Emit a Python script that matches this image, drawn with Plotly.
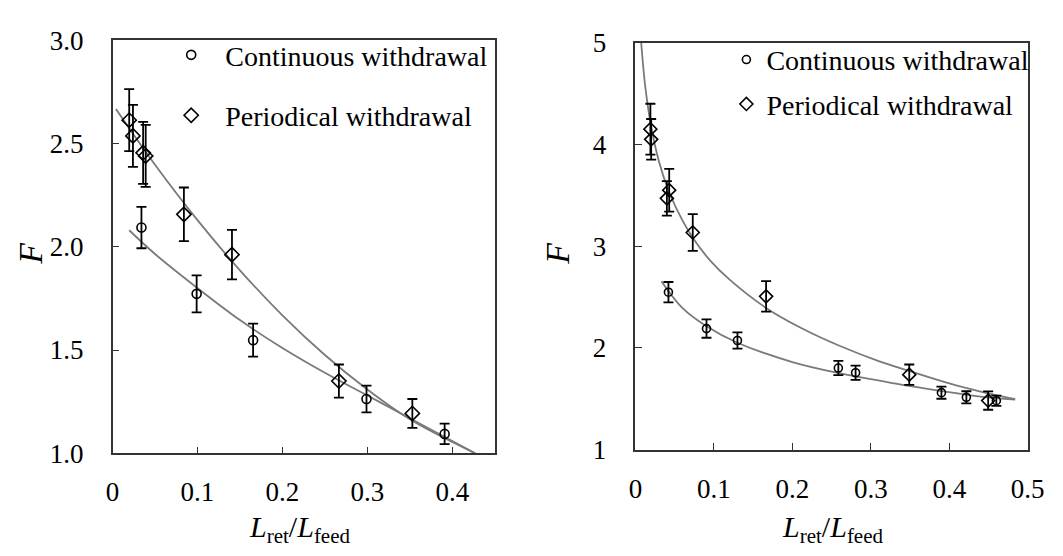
import plotly.graph_objects as go

# ---------------- data ----------------
# Left panel
L_cont_x = [0.034, 0.099, 0.1655, 0.299, 0.391]
L_cont_y = [2.093, 1.772, 1.548, 1.263, 1.094]
L_cont_e = [0.10, 0.09, 0.08, 0.065, 0.05]

L_per_x = [0.0196, 0.024, 0.036, 0.039, 0.084, 0.1406, 0.2665, 0.353]
L_per_y = [2.613, 2.537, 2.455, 2.440, 2.157, 1.962, 1.350, 1.193]
L_per_e = [0.15, 0.15, 0.15, 0.15, 0.13, 0.12, 0.08, 0.07]

L_fit_cont_x = [0.0196, 0.05, 0.10, 0.15, 0.20, 0.25, 0.30, 0.35, 0.427]
L_fit_cont_y = [2.08, 1.965, 1.80, 1.645, 1.51, 1.39, 1.28, 1.17, 1.00]
L_fit_per_x = [0.004, 0.05, 0.10, 0.15, 0.20, 0.25, 0.30, 0.35, 0.427]
L_fit_per_y = [2.667, 2.397, 2.129, 1.886, 1.668, 1.476, 1.309, 1.165, 1.00]

# Right panel
R_cont_x = [0.042, 0.0905, 0.13, 0.2586, 0.2806, 0.39, 0.4218, 0.46]
R_cont_y = [2.547, 2.189, 2.072, 1.801, 1.755, 1.559, 1.513, 1.480]
R_cont_e = [0.10, 0.09, 0.08, 0.07, 0.07, 0.06, 0.06, 0.05]

R_per_x = [0.019, 0.020, 0.040, 0.043, 0.073, 0.1665, 0.349, 0.4496]
R_per_y = [4.15, 4.05, 3.47, 3.55, 3.134, 2.506, 1.736, 1.481]
R_per_e = [0.25, 0.20, 0.17, 0.21, 0.18, 0.15, 0.10, 0.09]

R_fit_cont_x = [0.033, 0.06, 0.09, 0.13, 0.20, 0.26, 0.33, 0.39, 0.44, 0.484]
R_fit_cont_y = [2.655, 2.39, 2.215, 2.05, 1.86, 1.75, 1.65, 1.575, 1.52, 1.49]
R_fit_per_x = [0.0068, 0.012, 0.019, 0.03, 0.043, 0.06, 0.075, 0.095, 0.12,
               0.165, 0.21, 0.26, 0.31, 0.35, 0.40, 0.44, 0.484]
R_fit_per_y = [5.05, 4.60, 4.22, 3.83, 3.53, 3.25, 3.06, 2.86, 2.67,
               2.40, 2.20, 2.02, 1.87, 1.77, 1.65, 1.57, 1.495]

L_xticks = [0, 0.1, 0.2, 0.3, 0.4]
L_yticks = [1.0, 1.5, 2.0, 2.5, 3.0]
R_xticks = [0, 0.1, 0.2, 0.3, 0.4, 0.5]
R_yticks = [1, 2, 3, 4, 5]

names = ["Continuous withdrawal", "Periodical withdrawal"]

FONT = "Liberation Serif"
W, H = 1063, 556
LINE_C = "#7a7a7a"
AX_C = "#333333"

fig = go.Figure()

def fit(x, y, xa, ya):
    fig.add_trace(go.Scatter(x=x, y=y, mode="lines", line=dict(color=LINE_C, width=1.8, shape="spline", smoothing=1.0),
                             xaxis=xa, yaxis=ya, showlegend=False, hoverinfo="skip"))

def pts(x, y, e, sym, size, name, xa, ya, legend, group):
    fig.add_trace(go.Scatter(x=x, y=y, mode="markers", name=name,
                             marker=dict(symbol=sym, size=size, color="black", line=dict(width=1.6, color="black")),
                             error_y=dict(type="data", array=e, visible=True, color="black", thickness=1.8, width=5),
                             xaxis=xa, yaxis=ya, legend=legend, legendgroup=group))

fit(L_fit_cont_x, L_fit_cont_y, "x", "y")
fit(L_fit_per_x, L_fit_per_y, "x", "y")
fit(R_fit_cont_x, R_fit_cont_y, "x2", "y2")
fit(R_fit_per_x, R_fit_per_y, "x2", "y2")

pts(L_cont_x, L_cont_y, L_cont_e, "circle-open", 9, "&nbsp;&nbsp;" + names[0], "x", "y", "legend", "a")
pts(L_per_x, L_per_y, L_per_e, "diamond-open", 11, "&nbsp;&nbsp;" + names[1], "x", "y", "legend", "b")
pts(R_cont_x, R_cont_y, R_cont_e, "circle-open", 8, names[0], "x2", "y2", "legend2", "c")
pts(R_per_x, R_per_y, R_per_e, "diamond-open", 10, names[1], "x2", "y2", "legend2", "d")

axcommon = dict(showline=True, linecolor=AX_C, linewidth=1.5, mirror=True, ticks="inside",
                ticklen=7, tickwidth=1.3, tickcolor=AX_C, showgrid=False, zeroline=False,
                tickfont=dict(family=FONT, size=27, color="black"))

fig.update_layout(
    width=W, height=H, margin=dict(l=0, r=0, t=0, b=0),
    paper_bgcolor="white", plot_bgcolor="white",
    font=dict(family=FONT, color="black"),
    xaxis=dict(axcommon, domain=[108 / W, 499 / W], range=[0, 0.45], tickvals=L_xticks,
               ticktext=["0", "0.1", "0.2", "0.3", "0.4"], ticklabelstandoff=14, anchor="y"),
    yaxis=dict(axcommon, domain=[1 - 463.3 / H, 1 - 26.7 / H], range=[1, 3], tickvals=L_yticks,
               tickformat=".1f", ticklabelstandoff=22, anchor="x"),
    xaxis2=dict(axcommon, domain=[643 / W, 1044.3 / W], range=[0, 0.5], tickvals=R_xticks,
                ticktext=["0", "0.1", "0.2", "0.3", "0.4", "0.5"], ticklabelstandoff=14, anchor="y2"),
    yaxis2=dict(axcommon, domain=[1 - 459.3 / H, 1 - 29.3 / H], range=[1, 5], tickvals=R_yticks,
                ticklabelstandoff=22, anchor="x2"),
    legend=dict(x=168 / W, y=1 - 16 / H, xanchor="left", yanchor="top", bgcolor="rgba(0,0,0,0)",
                font=dict(family=FONT, size=28, color="black"), tracegroupgap=21, itemwidth=30),
    legend2=dict(x=736 / W, y=1 - 21 / H, xanchor="left", yanchor="top", bgcolor="rgba(0,0,0,0)",
                 font=dict(family=FONT, size=28, color="black"), tracegroupgap=5, itemwidth=30),
)

title_x = "<i>L</i><sub>ret</sub>/<i>L</i><sub>feed</sub>"
for cx in (300, 845):
    fig.add_annotation(x=cx / W, y=1 - 543 / H, xref="paper", yref="paper", text=title_x, showarrow=False,
                       font=dict(family=FONT, size=30, color="black"), xanchor="center", yanchor="middle")
for cx in (24, 563):
    fig.add_annotation(x=cx / W, y=1 - 252 / H, xref="paper", yref="paper", text="<i>F</i>", showarrow=False,
                       textangle=-90, font=dict(family=FONT, size=34, color="black"),
                       xanchor="center", yanchor="middle")

fig.write_html("out.html")
